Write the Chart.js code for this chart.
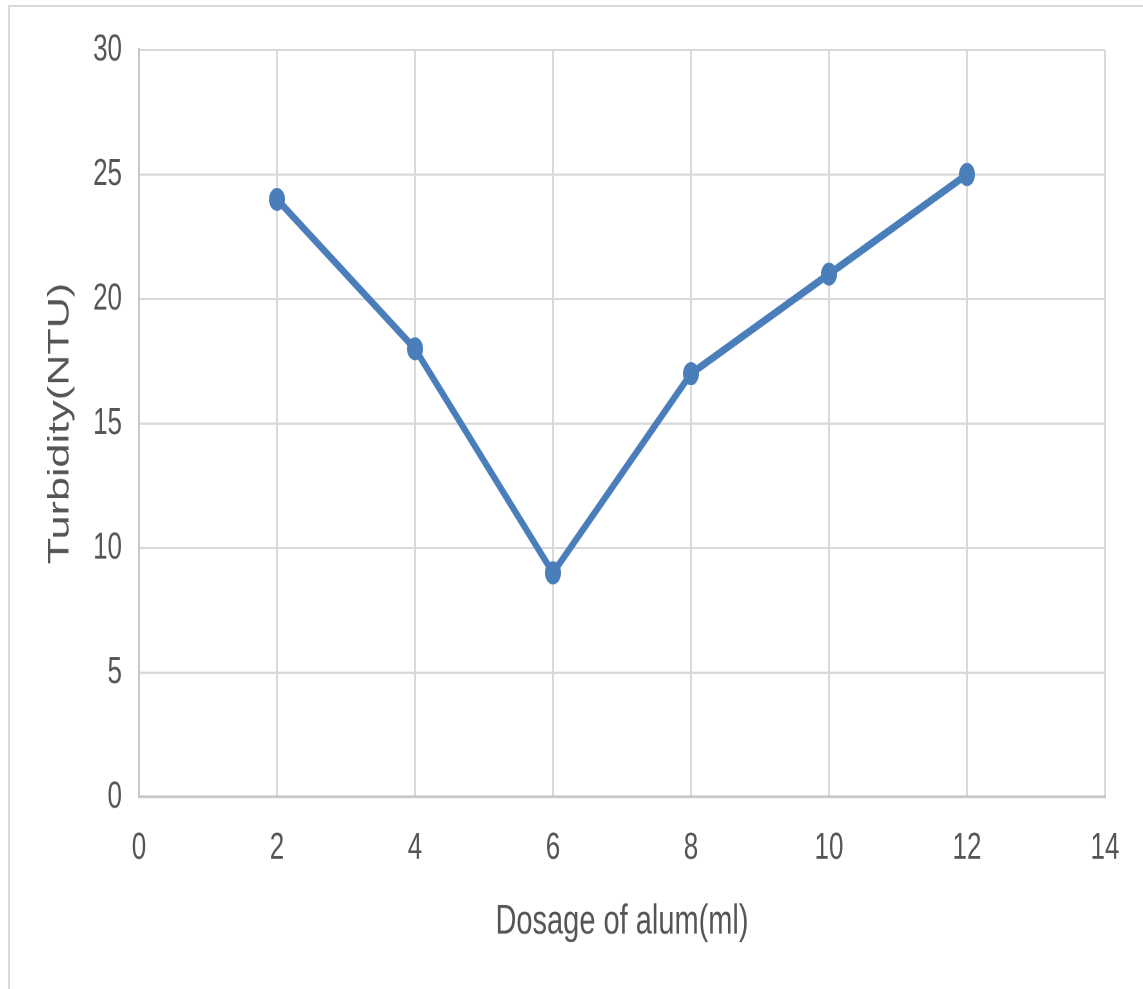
<!DOCTYPE html>
<html>
<head>
<meta charset="utf-8">
<script src="https://cdn.jsdelivr.net/npm/chart.js@4/dist/chart.umd.min.js"></script>
<style>
  html, body { margin: 0; padding: 0; background: #ffffff; overflow: hidden; }
  #frame { position: absolute; left: 8px; top: 5px; width: 1200px; height: 1100px;
           border-top: 2px solid #d9d9d9; border-left: 2px solid #d9d9d9; }
  #wrap { position: absolute; left: 0; top: 0; width: 1143px; height: 687px;
          transform: scaleY(1.4396); transform-origin: 0 0; }
</style>
</head>
<body>
<div id="frame"></div>
<div id="wrap"><canvas id="c" width="1143" height="687"></canvas></div>
<script>
const dosage = [2, 4, 6, 8, 10, 12];
const turbidity = [24, 18, 9, 17, 21, 25];
const xTitle = 'Dosage of alum(ml)';
const yTitle = 'Turbidity(NTU)';
const xRange = [0, 14, 2];
const yRange = [0, 30, 5];

const points = dosage.map((d, i) => ({ x: d, y: turbidity[i] }));
const FONT = "'Liberation Sans', Arial, sans-serif";
const GRAY = '#555555';

new Chart(document.getElementById('c'), {
  type: 'line',
  data: {
    datasets: [{
      data: points,
      borderColor: '#4a7ebb',
      backgroundColor: '#4a7ebb',
      borderWidth: 5.5,
      pointRadius: 8,
      pointHoverRadius: 8,
      pointBorderWidth: 0,
      tension: 0,
      fill: false
    }]
  },
  options: {
    responsive: false,
    animation: false,
    devicePixelRatio: 2,
    layout: { padding: { top: 34.7, right: 38, left: 0, bottom: 0 } },
    plugins: { legend: { display: false }, tooltip: { enabled: false } },
    scales: {
      x: {
        type: 'linear',
        min: xRange[0], max: xRange[1],
        ticks: { stepSize: xRange[2], color: GRAY, padding: 20, font: { family: FONT, size: 26 } },
        grid: { color: '#d9d9d9', lineWidth: 2, drawTicks: false },
        border: { display: true, color: '#c8c8c8', width: 2 },
        title: { display: true, text: xTitle, color: GRAY, font: { family: FONT, size: 29 },
                 padding: { top: 0, bottom: 29 } },
        afterFit(scale) { scale.height = 687 - 553.6; }
      },
      y: {
        min: yRange[0], max: yRange[1],
        ticks: { stepSize: yRange[2], color: GRAY, padding: 17, font: { family: FONT, size: 26 } },
        grid: { color: '#d9d9d9', lineWidth: 1.5, drawTicks: false },
        border: { display: true, color: '#c8c8c8', width: 2 },
        title: { display: true, text: yTitle, color: GRAY, font: { family: FONT, size: 30 },
                 padding: { top: 42, bottom: 0 } },
        afterFit(scale) { scale.width = 139; }
      }
    }
  }
});
</script>
</body>
</html>
